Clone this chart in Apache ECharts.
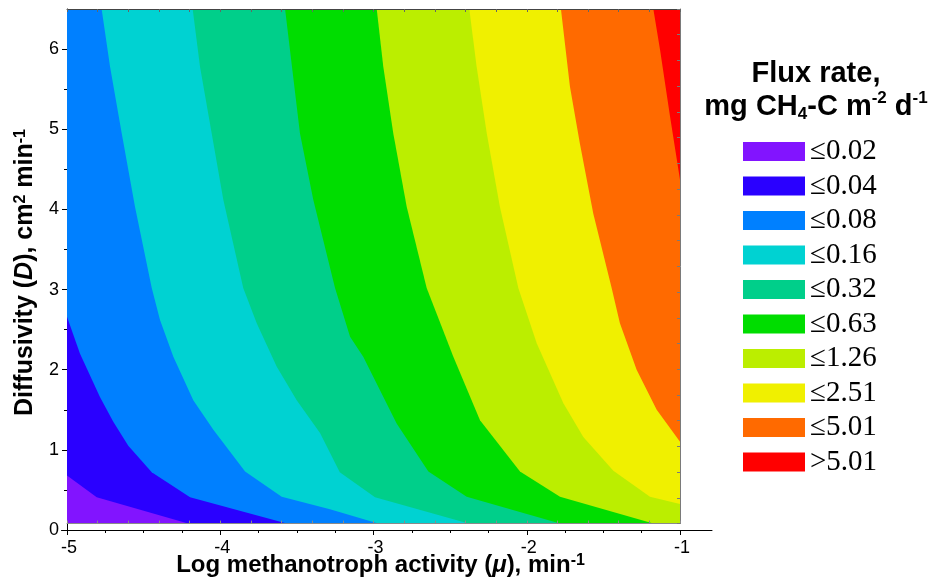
<!DOCTYPE html>
<html>
<head>
<meta charset="utf-8">
<script src="https://cdn.jsdelivr.net/npm/echarts@6/dist/echarts.min.js"></script>
<style>
  html, body { margin: 0; padding: 0; background: #ffffff; }
  #chart { width: 941px; height: 579px; }
</style>
</head>
<body>
<div id="chart"></div>
<script>
// Flux-rate classes: legend labels and fill colours (lowest to highest)
const classLabels = ['≤0.02', '≤0.04', '≤0.08', '≤0.16', '≤0.32', '≤0.63', '≤1.26', '≤2.51', '≤5.01', '>5.01'];
const classColors = ['#8214ff', '#2a00ff', '#0080ff', '#00d2d2', '#00cf8a', '#00dd00', '#bbee00', '#f0f000', '#ff6a00', '#ff0000'];

// Extent of the computed surface: log methanotroph activity and diffusivity
const muRange = [-5, -1];
const dRange = [0.08, 6.5];

// Contour lines as [log mu, D] pairs, running from the upper/left edge to the lower/right edge
const line002 = [[-5, 0.68], [-4.806, 0.41], [-4.21, 0.08]];
const line004 = [[-5, 2.66], [-4.915, 2.2], [-4.785, 1.66], [-4.698, 1.35], [-4.6, 1.05], [-4.447, 0.72], [-4.197, 0.41], [-3.566, 0.08]];
const line008 = [[-4.774, 6.5], [-4.719, 5.78], [-4.643, 4.95], [-4.556, 4.03], [-4.447, 3.02], [-4.393, 2.62], [-4.306, 2.16], [-4.176, 1.62], [-4.045, 1.25], [-3.838, 0.73], [-3.599, 0.415], [-3.284, 0.26], [-2.969, 0.08]];
const line016 = [[-4.18, 6.5], [-4.132, 5.78], [-4.056, 4.95], [-3.98, 4.12], [-3.85, 3.02], [-3.762, 2.58], [-3.632, 2.04], [-3.501, 1.62], [-3.349, 1.21], [-3.22, 0.72], [-2.99, 0.41], [-2.38, 0.08]];
const line032 = [[-3.577, 6.5], [-3.545, 5.99], [-3.48, 4.95], [-3.393, 4.12], [-3.251, 3.02], [-3.153, 2.41], [-3.067, 2.16], [-2.849, 1.33], [-2.642, 0.73], [-2.392, 0.415], [-1.783, 0.08]];
const line063 = [[-2.979, 6.5], [-2.936, 5.78], [-2.871, 4.95], [-2.783, 4.03], [-2.653, 3.02], [-2.479, 2.16], [-2.305, 1.37], [-2.044, 0.73], [-1.783, 0.415], [-1.174, 0.08]];
const line126 = [[-2.375, 6.5], [-2.327, 5.78], [-2.261, 4.95], [-2.175, 4.03], [-2.055, 3.02], [-1.935, 2.33], [-1.761, 1.58], [-1.631, 1.16], [-1.435, 0.74], [-1.196, 0.415], [-1, 0.325]];
const line251 = [[-1.777, 6.5], [-1.718, 5.53], [-1.653, 4.82], [-1.566, 3.95], [-1.446, 3.02], [-1.392, 2.58], [-1.283, 2.0], [-1.152, 1.5], [-1, 1.1]];
const line501 = [[-1.174, 6.5], [-1.13, 5.99], [-1.065, 5.16], [-1, 4.37]];

// Axis tick labels
const xTicks = [-5, -4, -3, -2, -1];
const yTicks = [0, 1, 2, 3, 4, 5, 6];
const yMinorTicks = [0.5, 1.5, 2.5, 3.5, 4.5, 5.5];

const contourLines = [line002, line004, line008, line016, line032, line063, line126, line251, line501];

// Position of a point along the box outline: bottom 0-1, right 1-2, top 2-3, left 3-4
function outlinePos(p) {
  const [x, y] = p, eps = 1e-9;
  const w = muRange[1] - muRange[0], h = dRange[1] - dRange[0];
  if (Math.abs(y - dRange[0]) < eps) return (x - muRange[0]) / w;
  if (Math.abs(x - muRange[1]) < eps) return 1 + (y - dRange[0]) / h;
  if (Math.abs(y - dRange[1]) < eps) return 2 + (muRange[1] - x) / w;
  return 3 + (dRange[1] - y) / h;
}
function outlineCorner(k) {
  switch (((k % 4) + 4) % 4) {
    case 1: return [muRange[1], dRange[0]];
    case 2: return [muRange[1], dRange[1]];
    case 3: return [muRange[0], dRange[1]];
    default: return [muRange[0], dRange[0]];
  }
}
// Area on the high-flux side of a contour line, closed along the box outline
function highSide(line) {
  const tEnd = outlinePos(line[line.length - 1]);
  let tStart = outlinePos(line[0]);
  if (tStart < tEnd) tStart += 4;
  const pts = line.slice();
  for (let c = Math.floor(tEnd) + 1; c < tStart; c++) pts.push(outlineCorner(c));
  return pts;
}
const fullBox = [outlineCorner(0), outlineCorner(1), outlineCorner(2), outlineCorner(3)];
const classAreas = [fullBox].concat(contourLines.map(highSide));

const sans = 'Liberation Sans, Arial, sans-serif';
const serif = 'Liberation Serif, Times New Roman, serif';

const series = classLabels.map((name, i) => ({
  name: name,
  type: 'custom',
  coordinateSystem: 'cartesian2d',
  xAxisIndex: 0,
  yAxisIndex: 0,
  itemStyle: { color: classColors[i] },
  data: [[muRange[0], dRange[0]]],
  silent: true,
  z: 2 + i * 0.01,
  renderItem: function (params, api) {
    const pts = classAreas[i].map(p => api.coord(p));
    return {
      type: 'polygon',
      shape: { points: pts },
      style: { fill: classColors[i], stroke: null }
    };
  }
}));

const chart = echarts.init(document.getElementById('chart'), null, { renderer: 'canvas' });

const supStyle = { fontFamily: sans, fontWeight: 'bold', fontSize: 16, verticalAlign: 'top', lineHeight: 14, color: '#000' };

chart.setOption({
  animation: false,
  backgroundColor: '#ffffff',
  grid: [
    { left: 67, right: 261, top: 9, bottom: 49, outerBoundsMode: 'none', containLabel: false },
    { left: 67, right: 261, top: 9, bottom: 55.4, outerBoundsMode: 'none', containLabel: false },
    { left: 61.5, right: 229, top: 9, bottom: 49, outerBoundsMode: 'none', containLabel: false }
  ],
  xAxis: [
    {
      gridIndex: 0, type: 'value', min: muRange[0], max: muRange[1], interval: 1,
      axisLine: { lineStyle: { color: '#000', width: 1 } },
      axisTick: { show: true, inside: false, length: 5, lineStyle: { color: '#000' } },
      minorTick: { show: true, splitNumber: 4, length: 3, lineStyle: { color: '#000' } },
      splitLine: { show: false },
      axisLabel: { fontFamily: sans, fontSize: 18, color: '#000', margin: 9, padding: [0, 0, 0, 4] },
      name: 'Log methanotroph activity ({it|μ}), min{sup|-1}',
      nameLocation: 'middle', nameGap: 23, nameMoveOverlap: false,
      nameTextStyle: {
        fontFamily: sans, fontSize: 24, fontWeight: 'bold', color: '#000', padding: [0, 0, 0, 14],
        rich: {
          it: { fontFamily: sans, fontSize: 24, fontWeight: 'bold', fontStyle: 'italic', color: '#000' },
          sup: supStyle
        }
      }
    },
    {
      gridIndex: 1, type: 'value', min: muRange[0], max: muRange[1], interval: 0.2, position: 'bottom', z: 5,
      axisLine: { lineStyle: { color: '#8a8a8a', width: 1 } },
      axisTick: { show: true, inside: true, length: 3, lineStyle: { color: '#8a8a8a' } },
      axisLabel: { show: false }, splitLine: { show: false }
    },
    {
      gridIndex: 1, type: 'value', min: muRange[0], max: muRange[1], interval: 0.2, position: 'top', z: 5,
      axisLine: { lineStyle: { color: '#444', width: 1 } },
      axisTick: { show: true, inside: true, length: 3, lineStyle: { color: '#666' } },
      axisLabel: { show: false }, splitLine: { show: false }
    },
    {
      gridIndex: 2, type: 'value', min: 0, max: 1,
      axisLine: { lineStyle: { color: '#000', width: 1 } },
      axisTick: { show: false }, axisLabel: { show: false }, splitLine: { show: false }
    }
  ],
  yAxis: [
    {
      gridIndex: 0, type: 'value', min: 0, max: 6.5, position: 'left',
      axisLine: { lineStyle: { color: '#000', width: 1 } },
      axisTick: { show: true, inside: false, length: 5, customValues: yTicks, lineStyle: { color: '#000' } },
      splitLine: { show: false },
      axisLabel: { fontFamily: sans, fontSize: 18, color: '#000', margin: 8, customValues: yTicks },
      name: 'Diffusivity ({it|D}), cm{sup|2} min{sup|-1}',
      nameLocation: 'middle', nameGap: 29, nameRotate: 90,
      nameTextStyle: {
        fontFamily: sans, fontSize: 25, fontWeight: 'bold', color: '#000', padding: [0, 6, 0, 0],
        rich: {
          it: { fontFamily: sans, fontSize: 25, fontWeight: 'bold', fontStyle: 'italic', color: '#000' },
          sup: supStyle
        }
      }
    },
    {
      gridIndex: 0, type: 'value', min: 0, max: 6.5, position: 'left',
      axisLine: { show: false },
      axisTick: { show: true, inside: false, length: 3, customValues: yMinorTicks, lineStyle: { color: '#000' } },
      axisLabel: { show: false }, splitLine: { show: false }
    },
    {
      gridIndex: 1, type: 'value', min: dRange[0], max: dRange[1], position: 'right', z: 5,
      axisLine: { lineStyle: { color: '#7a7a7a', width: 1 } },
      axisTick: {
        show: true, inside: true, length: 3, lineStyle: { color: '#7a7a7a' },
        customValues: Array.from({ length: 21 }, (_, k) => dRange[0] + k * (dRange[1] - dRange[0]) / 20)
      },
      axisLabel: { show: false }, splitLine: { show: false }
    },
    { gridIndex: 2, type: 'value', show: false, min: 0, max: 1 }
  ],
  legend: {
    orient: 'vertical', left: 743, top: 137, padding: 0,
    itemWidth: 62, itemHeight: 19, itemGap: 5.5,
    icon: 'rect', selectedMode: false,
    data: classLabels,
    textStyle: { fontFamily: serif, fontSize: 29, color: '#000' }
  },
  graphic: [
    {
      type: 'text', x: 816, y: 57, silent: true,
      style: {
        text: 'Flux rate,\nmg CH{sub|4}-C m{sup|-2} d{sup|-1}',
        align: 'center', verticalAlign: 'top',
        fontFamily: sans, fontSize: 29, fontWeight: 'bold', lineHeight: 33, fill: '#000',
        rich: {
          sup: { fontFamily: sans, fontSize: 17, fontWeight: 'bold', lineHeight: 18, verticalAlign: 'top', fill: '#000' },
          sub: { fontFamily: sans, fontSize: 17, fontWeight: 'bold', lineHeight: 18, verticalAlign: 'bottom', fill: '#000' }
        }
      }
    }
  ],
  series: series
});
</script>
</body>
</html>
